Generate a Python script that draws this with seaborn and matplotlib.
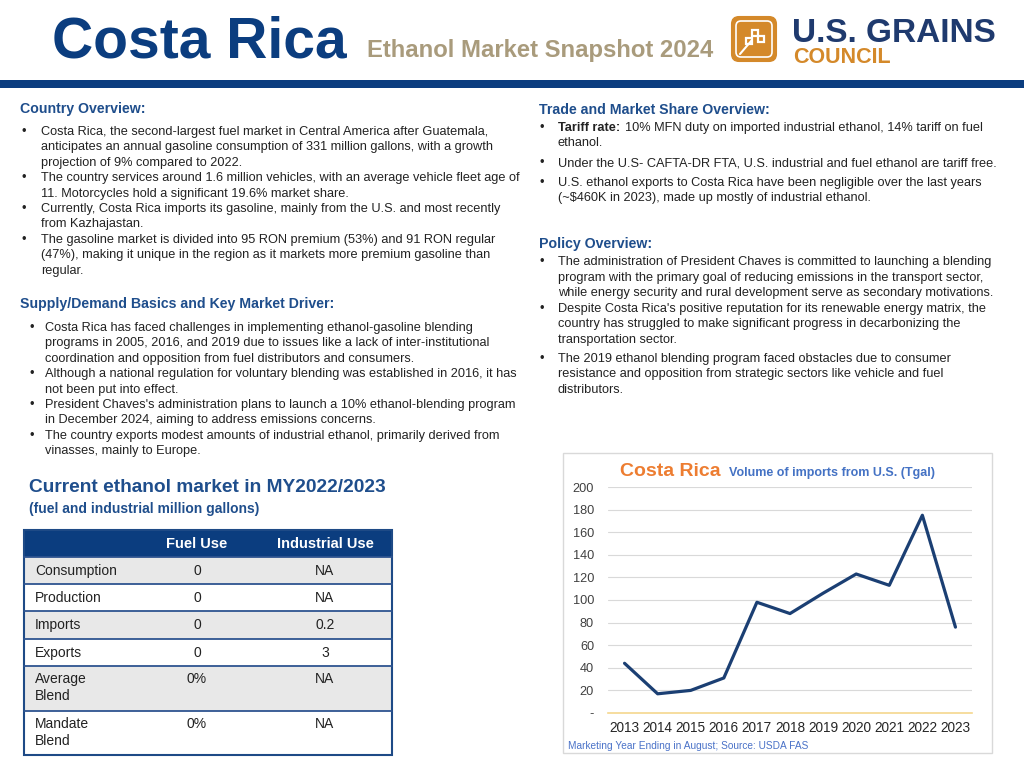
import numpy as np
import pandas as pd
import matplotlib
matplotlib.use("Agg")
import matplotlib.pyplot as plt
from matplotlib.patches import Rectangle, FancyBboxPatch
import seaborn as sns

# --- dati del grafico ---
years = [2013, 2014, 2015, 2016, 2017, 2018, 2019, 2020, 2021, 2022, 2023]
imports_tgal = [44, 17, 20, 31, 98, 88, 106, 123, 113, 175, 76]
y_ticks = [0, 20, 40, 60, 80, 100, 120, 140, 160, 180, 200]
y_tick_labels = ["-", "20", "40", "60", "80", "100", "120", "140", "160", "180", "200"]

# --- dati della tabella ---
table_header = ["", "Fuel Use", "Industrial Use"]
row_labels = ["Consumption", "Production", "Imports", "Exports", "Average\nBlend", "Mandate\nBlend"]
fuel_use = ["0", "0", "0", "0", "0%", "0%"]
industrial_use = ["NA", "NA", "0.2", "3", "NA", "NA"]

# --- testi ---
country_bullets = [
    ["Costa Rica, the second-largest fuel market in Central America after Guatemala,",
     "anticipates an annual gasoline consumption of 331 million gallons, with a growth",
     "projection of 9% compared to 2022."],
    ["The country services around 1.6 million vehicles, with an average vehicle fleet age of",
     "11. Motorcycles hold a significant 19.6% market share."],
    ["Currently, Costa Rica imports its gasoline, mainly from the U.S. and most recently",
     "from Kazhajastan."],
    ["The gasoline market is divided into 95 RON premium (53%) and 91 RON regular",
     "(47%), making it unique in the region as it markets more premium gasoline than",
     "regular."],
]
supply_bullets = [
    ["Costa Rica has faced challenges in implementing ethanol-gasoline blending",
     "programs in 2005, 2016, and 2019 due to issues like a lack of inter-institutional",
     "coordination and opposition from fuel distributors and consumers."],
    ["Although a national regulation for voluntary blending was established in 2016, it has",
     "not been put into effect."],
    ["President Chaves's administration plans to launch a 10% ethanol-blending program",
     "in December 2024, aiming to address emissions concerns."],
    ["The country exports modest amounts of industrial ethanol, primarily derived from",
     "vinasses, mainly to Europe."],
]
trade_bullets = [
    ["10% MFN duty on imported industrial ethanol, 14% tariff on fuel",
     "ethanol."],
    ["Under the U.S- CAFTA-DR FTA, U.S. industrial and fuel ethanol are tariff free."],
    ["U.S. ethanol exports to Costa Rica have been negligible over the last years",
     "(~$460K in 2023), made up mostly of industrial ethanol."],
]
policy_bullets = [
    ["The administration of President Chaves is committed to launching a blending",
     "program with the primary goal of reducing emissions in the transport sector,",
     "while energy security and rural development serve as secondary motivations."],
    ["Despite Costa Rica's positive reputation for its renewable energy matrix, the",
     "country has struggled to make significant progress in decarbonizing the",
     "transportation sector."],
    ["The 2019 ethanol blending program faced obstacles due to consumer",
     "resistance and opposition from strategic sectors like vehicle and fuel",
     "distributors."],
]

NAVY = "#0B3D7F"
HEAD = "#1F4E8C"
TAN = "#A99B7C"
ORANGE = "#D4892A"
TXT = "#222222"
BODY = 9.2

sns.set_theme(style="white")
plt.rcParams["font.family"] = ["Liberation Sans", "DejaVu Sans"]

fig = plt.figure(figsize=(10.24, 7.68), dpi=100)
fig.patch.set_facecolor("white")

# asse di sfondo in coordinate pixel (origine in alto a sinistra)
bg = fig.add_axes([0, 0, 1, 1])
bg.set_xlim(0, 1024)
bg.set_ylim(768, 0)
bg.axis("off")

# --- intestazione ---
bg.text(52, 58, "Costa Rica", fontsize=41, fontweight="bold", color=NAVY, va="baseline")
bg.text(367, 57, "Ethanol Market Snapshot 2024", fontsize=17.2, fontweight="bold",
        color=TAN, va="baseline")
bg.add_patch(FancyBboxPatch((732, 17), 44, 44, boxstyle="round,pad=0,rounding_size=7",
                            facecolor=ORANGE, edgecolor=ORANGE, lw=1.5))
bg.add_patch(FancyBboxPatch((736, 21), 36, 36, boxstyle="round,pad=0,rounding_size=5",
                            facecolor="none", edgecolor="white", lw=1.2))
for dx, dy in [(0, 0), (6, 6), (-6, 8)]:
    bg.add_patch(Rectangle((752 + dx, 30 + dy), 6, 6, facecolor="none", edgecolor="white", lw=1.6))
bg.plot([740, 752], [54, 40], color="white", lw=1.5)
bg.text(792, 42, "U.S. GRAINS", fontsize=24, fontweight="bold", color="#1F3A6E", va="baseline")
bg.text(793, 63, "COUNCIL", fontsize=15.5, fontweight="bold", color=ORANGE, va="baseline")
bg.add_patch(Rectangle((0, 80), 1024, 8, facecolor=NAVY, edgecolor="none"))


def draw_bullets(xb, xt, starts, bullets, step, first_dx=0):
    for k, (y0, lines) in enumerate(zip(starts, bullets)):
        bg.text(xb, y0, "•", fontsize=BODY, color=TXT, va="center")
        for i, line in enumerate(lines):
            dx = first_dx if (k == 0 and i == 0) else 0
            bg.text(xt + dx, y0 + i * step, line, fontsize=BODY, color=TXT, va="center")


# --- colonna sinistra ---
bg.text(20, 109, "Country Overview:", fontsize=10.2, fontweight="bold", color=HEAD, va="center")
step = 15.4
starts = np.cumsum([0] + [len(b) for b in country_bullets[:-1]]) * step + 132
draw_bullets(22, 41, starts, country_bullets, step)

bg.text(20, 304, "Supply/Demand Basics and Key Market Driver:", fontsize=10.2,
        fontweight="bold", color=HEAD, va="center")
starts = np.cumsum([0] + [len(b) for b in supply_bullets[:-1]]) * step + 328
draw_bullets(30, 45, starts, supply_bullets, step)

# --- colonna destra ---
bg.text(539, 110, "Trade and Market Share Overview:", fontsize=10.2, fontweight="bold",
        color=HEAD, va="center")
draw_bullets(539, 558, [128, 163, 183], trade_bullets, 15, first_dx=67)
bg.text(558, 128, "Tariff rate:", fontsize=BODY, fontweight="bold", color=TXT, va="center")

bg.text(539, 244, "Policy Overview:", fontsize=10.2, fontweight="bold", color=HEAD, va="center")
draw_bullets(539, 558, [262, 309, 359], policy_bullets, 15.5)

# --- tabella ---
bg.text(29, 488, "Current ethanol market in MY2022/2023", fontsize=13.8, fontweight="bold",
        color=HEAD, va="center")
bg.text(29, 509, "(fuel and industrial million gallons)", fontsize=10, fontweight="bold",
        color=HEAD, va="center")

tx0, tx1 = 24, 392
col_x = [24, 135, 258, 392]
bg.add_patch(Rectangle((tx0, 530), tx1 - tx0, 27, facecolor=NAVY, edgecolor="none"))
for j, h in enumerate(table_header):
    if h:
        bg.text((col_x[j] + col_x[j + 1]) / 2, 544, h, fontsize=10.5, fontweight="bold",
                color="white", ha="center", va="center")
row_edges = [557, 584, 611, 639, 666, 711, 755]
for i, lab in enumerate(row_labels):
    top, bot = row_edges[i], row_edges[i + 1]
    fill = "#E8E8E8" if i % 2 == 0 else "white"
    bg.add_patch(Rectangle((tx0, top), tx1 - tx0, bot - top, facecolor=fill, edgecolor="none"))
    bg.plot([tx0, tx1], [top, top], color="#2E5490", lw=1.3)
    multi = "\n" in lab
    ty = top + 14 if not multi else top + 6
    va = "center" if not multi else "top"
    bg.text(35, ty, lab, fontsize=10, color=TXT, va=va, linespacing=1.25)
    bg.text(197, ty, fuel_use[i], fontsize=10, color=TXT, ha="center", va=va)
    bg.text(325, ty, industrial_use[i], fontsize=10, color=TXT, ha="center", va=va)
bg.add_patch(Rectangle((tx0, 530), tx1 - tx0, 755 - 530, facecolor="none",
                       edgecolor="#1E4A86", lw=1.5))

# --- grafico ---
bg.add_patch(Rectangle((563, 453), 429, 300, facecolor="white", edgecolor="#D9D9D9", lw=1))
bg.text(620, 476, "Costa Rica", fontsize=14, fontweight="bold", color="#ED7D31", va="baseline")
bg.text(729, 476, "Volume of imports from U.S. (Tgal)", fontsize=9, fontweight="bold",
        color="#4472C4", va="baseline")
bg.text(568, 746, "Marketing Year Ending in August; Source: USDA FAS", fontsize=7.3,
        color="#4A72C8", va="center")

ax = fig.add_axes([608 / 1024, 1 - 713 / 768, 364 / 1024, 226 / 768])
df = pd.DataFrame({"year": years, "imports": imports_tgal})
sns.lineplot(data=df, x="year", y="imports", ax=ax, color="#1B3F73", lw=2.3)
ax.set_xlim(2012.5, 2023.5)
ax.set_ylim(0, 200)
ax.set_xticks(years)
ax.set_xticklabels([str(y) for y in years], fontsize=9.8, color="#262626")
ax.set_yticks(y_ticks)
ax.set_yticklabels(y_tick_labels, fontsize=9.2, color="#404040")
ax.tick_params(axis="y", pad=10, length=0)
ax.tick_params(axis="x", pad=6, length=0)
ax.set_xlabel("")
ax.set_ylabel("")
ax.grid(axis="y", color="#D9D9D9", lw=0.8)
ax.set_axisbelow(True)
for s in ["top", "right", "left"]:
    ax.spines[s].set_visible(False)
ax.spines["bottom"].set_color("#F5D78E")
ax.spines["bottom"].set_linewidth(1.2)
ax.set_facecolor("none")

fig.savefig("out.png", dpi=100)
